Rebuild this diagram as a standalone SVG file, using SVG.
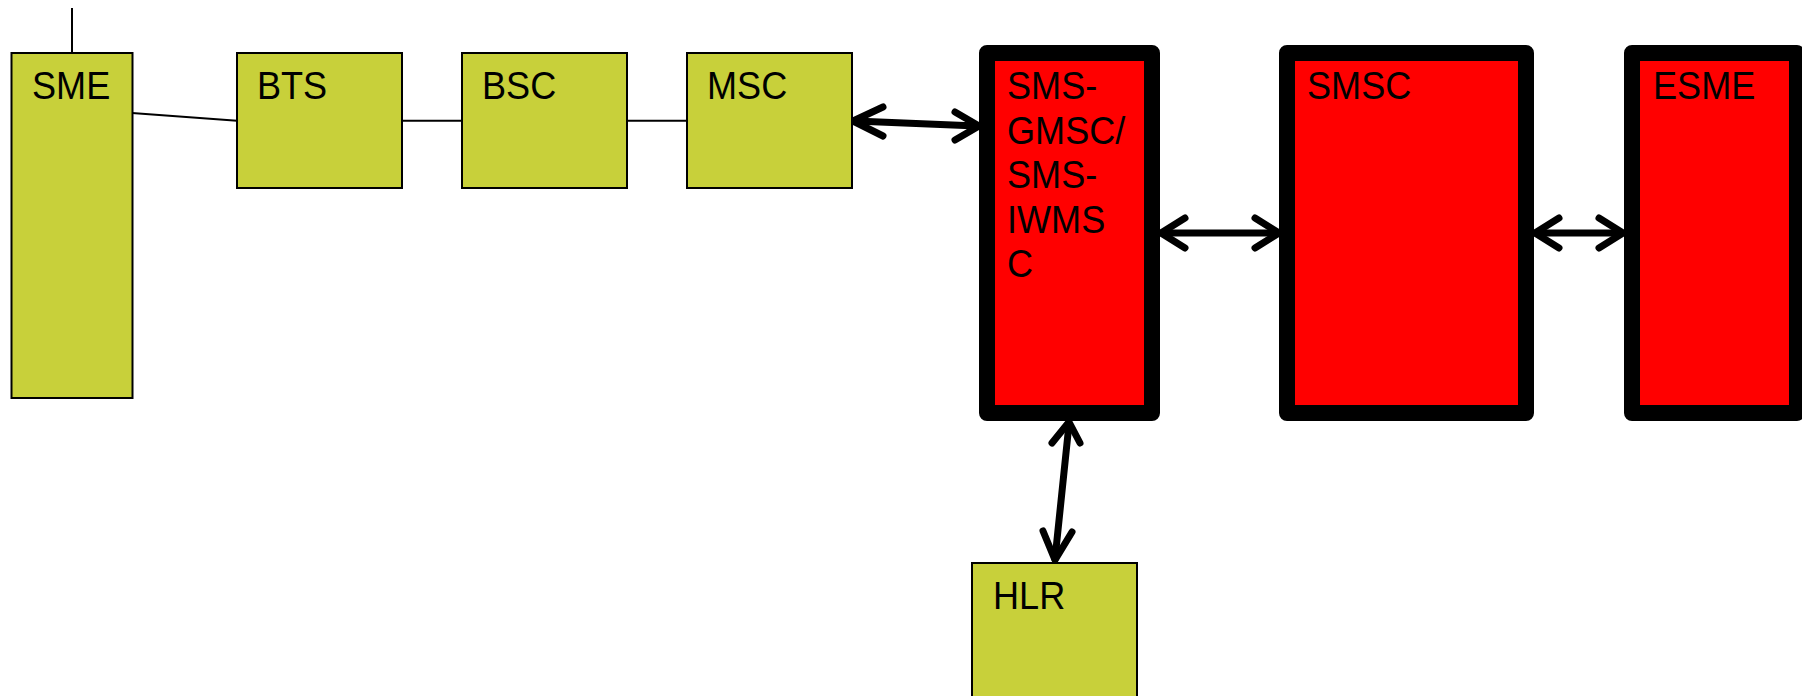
<svg xmlns="http://www.w3.org/2000/svg" width="1802" height="696" viewBox="0 0 1802 696">
<style>
.g{fill:#c8d03a;stroke:#000;stroke-width:2}
.r{fill:#ff0000;stroke:#000;stroke-width:16;stroke-linejoin:round}
.t{font-family:"Liberation Sans",Arial,sans-serif;font-size:38px;fill:#000}
.ln{stroke:#000;stroke-width:2;fill:none}
.ar{stroke:#000;stroke-width:7;fill:none;stroke-linecap:round;stroke-linejoin:round}
</style>
<rect width="1802" height="696" fill="#fff"/>
<g id="connectors">
<line class="ln" x1="72" y1="8" x2="72" y2="53"/>
<line class="ln" x1="132" y1="113" x2="237" y2="120.7"/>
<line class="ln" x1="402" y1="120.7" x2="462" y2="120.7"/>
<line class="ln" x1="627" y1="120.7" x2="687" y2="120.7"/>
<g id="msc-gmsc">
<line class="ar" x1="855" y1="121" x2="977" y2="126"/>
<polyline class="ar" points="883,107 853,121 883,136"/>
<polyline class="ar" points="955,112 979,126 955,140"/>
</g>
<g id="gmsc-smsc">
<line class="ar" x1="1162" y1="233" x2="1278" y2="233"/>
<polyline class="ar" points="1185,218 1161,233 1185,248"/>
<polyline class="ar" points="1255,218 1279,233 1255,248"/>
</g>
<g id="smsc-esme">
<line class="ar" x1="1536" y1="233" x2="1621" y2="233"/>
<polyline class="ar" points="1559,218 1535,233 1559,248"/>
<polyline class="ar" points="1599,218 1623,233 1599,248"/>
</g>
<g id="gmsc-hlr">
<line class="ar" x1="1069" y1="424" x2="1055" y2="559"/>
<polyline class="ar" points="1052,443 1069,422 1080,443"/>
<polyline class="ar" points="1043,531 1055,560 1072,532"/>
</g>
</g>
<g id="sme"><rect class="g" x="11.5" y="53" width="121" height="345"/><text class="t" transform="translate(32,99) scale(0.95,1)">SME</text></g>
<g id="bts"><rect class="g" x="237" y="53" width="165" height="135"/><text class="t" transform="translate(257,99) scale(0.95,1)">BTS</text></g>
<g id="bsc"><rect class="g" x="462" y="53" width="165" height="135"/><text class="t" transform="translate(482,99) scale(0.95,1)">BSC</text></g>
<g id="msc"><rect class="g" x="687" y="53" width="165" height="135"/><text class="t" transform="translate(707,99) scale(0.95,1)">MSC</text></g>
<g id="sms-gmsc"><rect class="r" x="987" y="53" width="165" height="360"/>
<text class="t" transform="translate(1007,99) scale(0.95,1)">SMS-</text>
<text class="t" transform="translate(1007,143.5) scale(0.95,1)">GMSC/</text>
<text class="t" transform="translate(1007,188) scale(0.95,1)">SMS-</text>
<text class="t" transform="translate(1007,232.5) scale(0.95,1)">IWMS</text>
<text class="t" transform="translate(1007,277) scale(0.95,1)">C</text>
</g>
<g id="smsc"><rect class="r" x="1287" y="53" width="239" height="360"/><text class="t" transform="translate(1307,99) scale(0.95,1)">SMSC</text></g>
<g id="esme"><rect class="r" x="1632" y="53" width="165" height="360"/><text class="t" transform="translate(1653,99) scale(0.95,1)">ESME</text></g>
<g id="hlr"><rect class="g" x="972" y="563" width="165" height="140"/><text class="t" transform="translate(993,609) scale(0.95,1)">HLR</text></g>
</svg>
